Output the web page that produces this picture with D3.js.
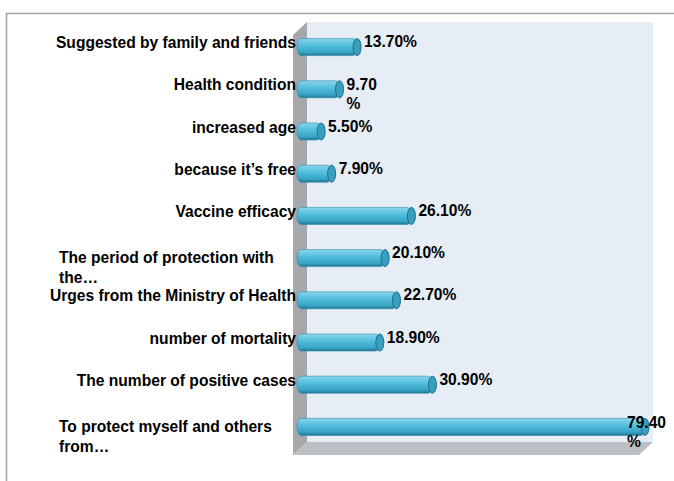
<!DOCTYPE html>
<html>
<head>
<meta charset="utf-8">
<script src="https://cdn.jsdelivr.net/npm/d3@7"></script>
<style>
  html, body { margin: 0; padding: 0; background: #ffffff; }
  svg { display: block; font-family: "Liberation Sans", Arial, sans-serif; }
</style>
</head>
<body>
<svg id="chart" width="674" height="481"></svg>
<script>
// Reasons given for taking the vaccine (share of respondents, %)
const categories = [
  "Suggested by family and friends",
  "Health condition",
  "increased age",
  "because it\u2019s free",
  "Vaccine efficacy",
  "The period of protection with\nthe\u2026",
  "Urges from the Ministry of Health",
  "number of mortality",
  "The number of positive cases",
  "To protect myself and others\nfrom\u2026"
];
const values = [13.7, 9.7, 5.5, 7.9, 26.1, 20.1, 22.7, 18.9, 30.9, 79.4];
// value labels whose "%" sign drops to a second line
const wrappedValueLabels = [1, 9];
const xDomain = [0, 80];

const svg = d3.select("#chart");
const W = 674, H = 481;

// plot box (front plane) and 3-D depth offset
const plot = { left: 293, right: 639, top: 35, bottom: 455 };
const depth = { dx: 14, dy: -13 };

const x = d3.scaleLinear().domain(xDomain).range([297, 297 + 80 * 4.383]);
const y = d3.scaleBand().domain(d3.range(categories.length)).range([26, 448]).padding(0);

// outer frame
svg.append("path")
  .attr("d", `M6.5,${H} L6.5,13.5 L${W},13.5`)
  .attr("fill", "none").attr("stroke", "#a3a3a3").attr("stroke-width", 1.5);

// back wall
svg.append("rect")
  .attr("x", plot.left + depth.dx).attr("y", plot.top + depth.dy)
  .attr("width", plot.right - plot.left)
  .attr("height", plot.bottom - plot.top)
  .attr("fill", "#e6edf5");

// left side wall
svg.append("polygon")
  .attr("points", [
    [plot.left, plot.top], [plot.left + depth.dx, plot.top + depth.dy],
    [plot.left + depth.dx, plot.bottom + depth.dy], [plot.left, plot.bottom]
  ].map(p => p.join(",")).join(" "))
  .attr("fill", "#a6a8ab");

// floor
svg.append("polygon")
  .attr("points", [
    [plot.left, plot.bottom], [plot.left + depth.dx, plot.bottom + depth.dy],
    [plot.right + depth.dx, plot.bottom + depth.dy], [plot.right, plot.bottom]
  ].map(p => p.join(",")).join(" "))
  .attr("fill", "#bcbfc3");

// cylinder shading
const defs = svg.append("defs");
const grad = defs.append("linearGradient").attr("id", "cyl")
  .attr("x1", 0).attr("y1", 0).attr("x2", 0).attr("y2", 1);
[[0, "#8fd6eb"], [0.2, "#6ccbe5"], [0.5, "#4ab8d7"], [0.8, "#3aa5c5"], [1, "#1f7592"]]
  .forEach(([o, c]) => grad.append("stop").attr("offset", o).attr("stop-color", c));

const barH = 17;
const bars = svg.append("g").selectAll("g").data(values).join("g")
  .attr("transform", (d, i) => `translate(0,${y(i) + y.bandwidth() / 2})`);

bars.append("rect")
  .attr("x", x(0)).attr("y", -barH / 2)
  .attr("width", d => x(d) - x(0))
  .attr("height", barH)
  .attr("rx", 4).attr("ry", barH / 2)
  .attr("fill", "url(#cyl)")
  .attr("stroke", "#2a8aa8").attr("stroke-width", 0.6);

bars.append("ellipse")
  .attr("cx", d => x(d)).attr("cy", 0)
  .attr("rx", 4).attr("ry", barH / 2)
  .attr("fill", "#3a9fbe")
  .attr("stroke", "#1f6f8a").attr("stroke-width", 1);

// category labels
const fontSize = 15.6;
const cat = svg.append("g").attr("font-size", fontSize).attr("font-weight", "bold").attr("fill", "#000");
categories.forEach((c, i) => {
  const cy = y(i) + y.bandwidth() / 2;
  const lines = c.split("\n");
  if (lines.length === 1) {
    cat.append("text").attr("x", 296).attr("y", cy + 1)
      .attr("text-anchor", "end").text(c);
  } else {
    const t = cat.append("text").attr("x", 59).attr("y", cy + 5).attr("text-anchor", "start");
    lines.forEach((l, k) => t.append("tspan").attr("x", 59).attr("dy", k ? 20 : 0).text(l));
  }
});

// value labels
const fmt = d3.format(".2f");
const valG = svg.append("g").attr("font-size", fontSize).attr("font-weight", "bold").attr("fill", "#000");
values.forEach((v, i) => {
  const cy = y(i) + y.bandwidth() / 2;
  const lx = Math.min(x(v) + 7, plot.right - 12);
  const num = fmt(v);
  if (wrappedValueLabels.includes(i)) {
    const t = valG.append("text").attr("x", lx).attr("y", cy + 1);
    t.append("tspan").attr("x", lx).attr("dy", 0).text(num);
    t.append("tspan").attr("x", lx).attr("dy", 19).text("%");
  } else {
    valG.append("text").attr("x", lx).attr("y", cy).text(num + "%");
  }
});
</script>
</body>
</html>
